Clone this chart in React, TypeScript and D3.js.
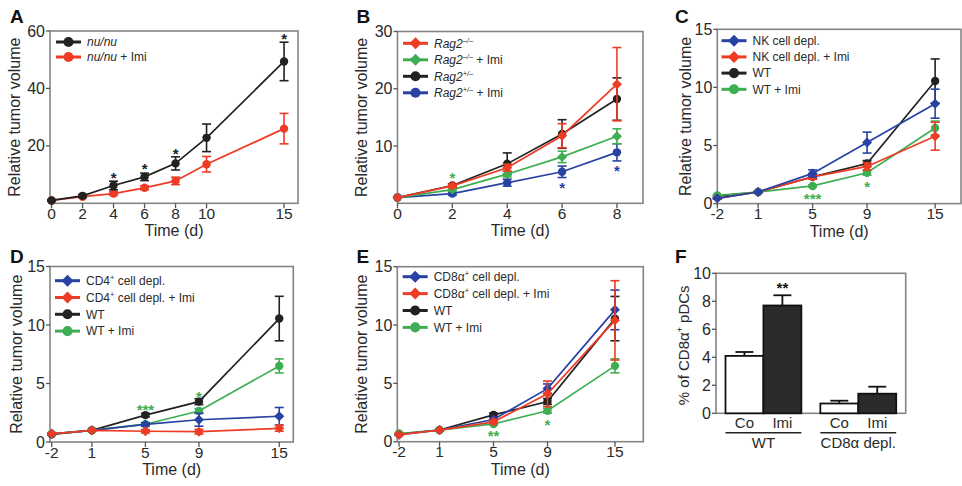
import React from 'react';
import * as d3 from 'd3';

const FONT = "'Liberation Sans', Arial, Helvetica, sans-serif";
const RED = '#ee3b26';
const GREEN = '#3fae52';
const BLUE = '#2742a2';
const BLACK = '#222222';
const FRAME = '#858585';
const TXT = '#2a2a2a';

// ---------- Panel A ----------
const aDays = [0, 2, 4, 6, 8, 10, 15];
const aDayLabels = ['0', '2', '4', '6', '8', '10', '15'];
const aYTicks = [20, 40, 60];
const aNu = [1, 2.6, 6.2, 9.2, 13.9, 22.8, 49.4];
const aNuErr = [0.3, 0.5, 1.5, 1.3, 2.3, 4.8, 6.7];
const aNuImi = [1, 2.3, 3.4, 5.4, 7.8, 13.6, 26];
const aNuImiErr = [0.2, 0.4, 0.6, 0.7, 1.3, 2.7, 5.3];
const aStars = [
  { x: 4, y: 10.3, t: '*' },
  { x: 6, y: 13.2, t: '*' },
  { x: 8, y: 18.5, t: '*' },
  { x: 15, y: 58.5, t: '*' },
];

// ---------- Panel B ----------
const bDays = [0, 2, 4, 6, 8];
const bDayLabels = ['0', '2', '4', '6', '8'];
const bYTicks = [10, 20, 30];
const bKO = [1, 3.05, 6.2, 11.8, 20.8];
const bKOErr = [0.1, 0.3, 0.6, 2.1, 6.4];
const bKOImi = [1, 2.4, 5.1, 8.1, 11.7];
const bKOImiErr = [0.1, 0.3, 0.5, 1.0, 1.3];
const bHet = [1, 3.1, 6.9, 12.1, 18.2];
const bHetErr = [0.1, 0.3, 1.9, 2.5, 3.7];
const bHetImi = [1, 1.7, 3.6, 5.5, 8.9];
const bHetImiErr = [0.1, 0.3, 0.6, 1.0, 1.5];
const bStars = [
  { x: 2, y: 5.2, t: '*', c: 'green' },
  { x: 6, y: 3.3, t: '*', c: 'blue' },
  { x: 8, y: 6.3, t: '*', c: 'blue' },
];

// ---------- Shared WT controls (C, D, E) ----------
const wtVals = [0.65, 1, 2.3, 3.45, 10.55];
const wtErr = [0.05, 0.05, 0.15, 0.25, 1.9];
const wtImiVals = [0.7, 1, 1.52, 2.65, 6.5];
const wtImiErr = [0.05, 0.05, 0.1, 0.2, 0.6];
const depDayLabels = ['-2', '1', '5', '9', '15'];
const cePositions = [-2, 1, 5, 9, 14];
const dPositions = [-2, 1, 5, 9, 15];
const depYTicks = [0, 5, 10, 15];

// ---------- Panel C ----------
const cNK = [0.45, 1, 2.6, 5.25, 8.6];
const cNKErr = [0.05, 0.05, 0.3, 0.9, 1.25];
const cNKImi = [0.45, 1, 2.3, 3.2, 5.8];
const cNKImiErr = [0.05, 0.05, 0.2, 0.3, 1.2];
const cStars = [
  { x: 5, y: 0.75, t: '***', c: 'green' },
  { x: 9, y: 1.75, t: '*', c: 'green' },
];

// ---------- Panel D ----------
const dCD4 = [0.7, 1, 1.5, 1.9, 2.2];
const dCD4Err = [0.05, 0.05, 0.15, 0.55, 0.75];
const dCD4Imi = [0.7, 1, 0.92, 0.88, 1.17];
const dCD4ImiErr = [0.05, 0.05, 0.15, 0.2, 0.25];
const dStars = [
  { x: 5, y: 3.1, t: '***', c: 'green' },
  { x: 9, y: 4.2, t: '*', c: 'green' },
];

// ---------- Panel E ----------
const eCD8 = [0.6, 1, 1.9, 4.55, 11.3];
const eCD8Err = [0.05, 0.05, 0.15, 0.4, 1.7];
const eCD8Imi = [0.6, 1, 1.7, 4.1, 10.4];
const eCD8ImiErr = [0.05, 0.05, 0.15, 1.1, 3.4];
const eStars = [
  { x: 5, y: 0.8, t: '**', c: 'green' },
  { x: 9, y: 1.8, t: '*', c: 'green' },
];

// ---------- Panel F ----------
const fCats = ['Co', 'Imi', 'Co', 'Imi'];
const fGroups = ['WT', 'CD8\u03B1 depl.'];
const fVals = [4.1, 7.7, 0.7, 1.4];
const fErr = [0.28, 0.73, 0.2, 0.5];
const fYTicks = [0, 2, 4, 6, 8, 10];
const fStars = [{ i: 1, t: '**' }];

type Seg = { t: string; i?: boolean; sup?: boolean };
type Series = {
  label: Seg[];
  color: string;
  shape: 'circle' | 'diamond';
  values: number[];
  errors: number[];
};

const colorOf = (c?: string) => (c === 'green' ? GREEN : c === 'blue' ? BLUE : BLACK);

function Label({ segs, x, y, size }: { segs: Seg[]; x: number; y: number; size: number }) {
  const out: React.ReactNode[] = [];
  let shifted = false;
  segs.forEach((s, k) => {
    let dy = 0;
    if (s.sup && !shifted) {
      dy = -size * 0.4;
      shifted = true;
    } else if (!s.sup && shifted) {
      dy = size * 0.4;
      shifted = false;
    }
    out.push(
      <tspan
        key={k}
        dy={dy}
        fontStyle={s.i ? 'italic' : 'normal'}
        fontSize={s.sup ? size * 0.62 : size}
      >
        {s.t}
      </tspan>
    );
  });
  return (
    <text x={x} y={y} fontSize={size} fill={TXT} style={{ whiteSpace: 'pre' }}>
      {out}
    </text>
  );
}

function Marker({ shape, x, y, color, s = 1 }: { shape: string; x: number; y: number; color: string; s?: number }) {
  if (shape === 'circle') return <circle cx={x} cy={y} r={4.2 * s} fill={color} />;
  const h = 5 * s;
  return <path d={`M${x},${y - h}L${x + h},${y}L${x},${y + h}L${x - h},${y}Z`} fill={color} />;
}

type PanelProps = {
  letter: string;
  letterX: number;
  letterY: number;
  box: { l: number; t: number; r: number; b: number };
  xDomain: [number, number];
  yDomain: [number, number];
  xPos: number[];
  xLabels: string[];
  yTicks: number[];
  series: Series[];
  drawOrder: number[];
  legend: { x: number; y: number; dy: number };
  stars: { x: number; y: number; t: string; c?: string }[];
  yTitleX: number;
};

function LinePanel(p: PanelProps) {
  const { box } = p;
  const x = d3.scaleLinear().domain(p.xDomain).range([box.l, box.r]);
  const y = d3.scaleLinear().domain(p.yDomain).range([box.b, box.t]);
  const cap = 4.5;
  return (
    <g fontFamily={FONT}>
      <text x={p.letterX} y={p.letterY} fontSize={19} fontWeight="bold" fill="#111">
        {p.letter}
      </text>
      <rect x={box.l} y={box.t} width={box.r - box.l} height={box.b - box.t} fill="none" stroke={FRAME} strokeWidth={1.6} />
      {p.yTicks.map((v) => (
        <g key={'y' + v}>
          <line x1={box.l - 4} x2={box.l} y1={y(v)} y2={y(v)} stroke="#555" strokeWidth={1.3} />
          <text x={box.l - 5} y={y(v) + 5.5} fontSize={16} textAnchor="end" fill={TXT}>
            {v}
          </text>
        </g>
      ))}
      {p.xPos.map((v, i) => (
        <g key={'x' + i}>
          <line x1={x(v)} x2={x(v)} y1={box.b} y2={box.b + 5} stroke="#555" strokeWidth={1.3} />
          <text x={x(v)} y={box.b + 15.5} fontSize={15.5} textAnchor="middle" fill={TXT}>
            {p.xLabels[i]}
          </text>
        </g>
      ))}
      <text x={(box.l + box.r) / 2} y={box.b + 33} fontSize={16} textAnchor="middle" fill={TXT}>
        Time (d)
      </text>
      <text
        transform={`translate(${p.yTitleX + 5.5},${(box.t + box.b) / 2}) rotate(-90)`}
        fontSize={16}
        textAnchor="middle"
        fill={TXT}
      >
        Relative tumor volume
      </text>
      {p.drawOrder.map((si) => {
        const s = p.series[si];
        const line = d3
          .line<number>()
          .x((_, i) => x(p.xPos[i]))
          .y((d) => y(d));
        return (
          <g key={'s' + si}>
            <path d={line(s.values) || ''} fill="none" stroke={s.color} strokeWidth={1.7} />
            {s.values.map((v, i) => {
              const e = s.errors[i];
              const cx = x(p.xPos[i]);
              const y1 = y(v + e);
              const y0 = y(v - e);
              return (
                <g key={i} stroke={s.color} strokeWidth={1.6}>
                  <line x1={cx} x2={cx} y1={y0} y2={y1} />
                  <line x1={cx - cap} x2={cx + cap} y1={y1} y2={y1} />
                  <line x1={cx - cap} x2={cx + cap} y1={y0} y2={y0} />
                </g>
              );
            })}
            {s.values.map((v, i) => (
              <Marker key={'m' + i} shape={s.shape} x={x(p.xPos[i])} y={y(v)} color={s.color} />
            ))}
          </g>
        );
      })}
      {p.stars.map((st, i) => (
        <text key={'st' + i} x={x(st.x)} y={y(st.y) + 9} fontSize={15} textAnchor="middle" fill={colorOf(st.c)} fontWeight="bold">
          {st.t}
        </text>
      ))}
      {p.series.map((s, i) => {
        const ly = p.legend.y + i * p.legend.dy;
        return (
          <g key={'lg' + i}>
            <line x1={p.legend.x} x2={p.legend.x + 25} y1={ly} y2={ly} stroke={s.color} strokeWidth={3} />
            <Marker shape={s.shape} x={p.legend.x + 12.5} y={ly} color={s.color} s={1.2} />
            <Label segs={s.label} x={p.legend.x + 31} y={ly + 4.3} size={12} />
          </g>
        );
      })}
    </g>
  );
}

function BarPanel() {
  const box = { l: 716, t: 273.3, r: 905.7, b: 413.3 };
  const slots = [0, 1, 2.5, 3.5];
  const x = d3.scaleLinear().domain([-0.75, 4.25]).range([box.l, box.r]);
  const y = d3.scaleLinear().domain([0, 10]).range([box.b, box.t]);
  const bw = x(1) - x(0);
  const groups = [
    [0, 1],
    [2, 3],
  ];
  return (
    <g fontFamily={FONT}>
      <text x={675} y={263} fontSize={19} fontWeight="bold" fill="#111">
        F
      </text>
      <rect x={box.l} y={box.t} width={box.r - box.l} height={box.b - box.t} fill="none" stroke={FRAME} strokeWidth={1.6} />
      {fYTicks.map((v) => (
        <g key={v}>
          <line x1={box.l - 4} x2={box.l} y1={y(v)} y2={y(v)} stroke="#555" strokeWidth={1.3} />
          <text x={box.l - 5} y={y(v) + 5.5} fontSize={16} textAnchor="end" fill={TXT}>
            {v}
          </text>
        </g>
      ))}
      {fVals.map((v, i) => {
        const cx = x(slots[i]);
        const top = y(v + fErr[i]);
        return (
          <g key={i}>
            <line x1={cx} x2={cx} y1={y(v)} y2={top} stroke="#111" strokeWidth={1.8} />
            <line x1={cx - 9} x2={cx + 9} y1={top} y2={top} stroke="#111" strokeWidth={1.8} />
            <rect
              x={cx - bw / 2}
              y={y(v)}
              width={bw}
              height={box.b - y(v)}
              fill={i % 2 === 1 ? '#2b2b2b' : '#ffffff'}
              stroke="#111"
              strokeWidth={1.8}
            />
            <text x={cx} y={428} fontSize={15} textAnchor="middle" fill={TXT}>
              {fCats[i]}
            </text>
          </g>
        );
      })}
      {fStars.map((s, k) => (
        <text key={k} x={x(slots[s.i])} y={y(fVals[s.i] + fErr[s.i]) - 2} fontSize={15} textAnchor="middle" fill="#111" fontWeight="bold">
          {s.t}
        </text>
      ))}
      {groups.map((g, k) => {
        const x0 = x(slots[g[0]]) - bw / 2;
        const x1 = x(slots[g[1]]) + bw / 2;
        return (
          <g key={k}>
            <line x1={x0} x2={x1} y1={432.7} y2={432.7} stroke="#222" strokeWidth={1.4} />
            <text x={(x0 + x1) / 2} y={447.5} fontSize={15} textAnchor="middle" fill={TXT}>
              {fGroups[k]}
            </text>
          </g>
        );
      })}
      <text
        transform={`translate(688.5,${(box.t + box.b) / 2 + 2}) rotate(-90)`}
        fontSize={15}
        textAnchor="middle"
        fill={TXT}
        style={{ whiteSpace: 'pre' }}
      >
        <tspan>% of CD8α</tspan>
        <tspan fontSize={9} dy={-5.5}>+</tspan>
        <tspan dy={5.5}> pDCs</tspan>
      </text>
    </g>
  );
}

const wtSeries = (): Series[] => [
  { label: [{ t: 'WT' }], color: BLACK, shape: 'circle', values: wtVals, errors: wtErr },
  { label: [{ t: 'WT + Imi' }], color: GREEN, shape: 'circle', values: wtImiVals, errors: wtImiErr },
];

export default function App() {
  const aSeries: Series[] = [
    { label: [{ t: 'nu/nu', i: true }], color: BLACK, shape: 'circle', values: aNu, errors: aNuErr },
    { label: [{ t: 'nu/nu', i: true }, { t: ' + Imi' }], color: RED, shape: 'circle', values: aNuImi, errors: aNuImiErr },
  ];
  const bSeries: Series[] = [
    { label: [{ t: 'Rag2', i: true }, { t: '\u2013/\u2013', i: true, sup: true }], color: RED, shape: 'diamond', values: bKO, errors: bKOErr },
    { label: [{ t: 'Rag2', i: true }, { t: '\u2013/\u2013', i: true, sup: true }, { t: ' + Imi' }], color: GREEN, shape: 'diamond', values: bKOImi, errors: bKOImiErr },
    { label: [{ t: 'Rag2', i: true }, { t: '+/\u2013', i: true, sup: true }], color: BLACK, shape: 'circle', values: bHet, errors: bHetErr },
    { label: [{ t: 'Rag2', i: true }, { t: '+/\u2013', i: true, sup: true }, { t: ' + Imi' }], color: BLUE, shape: 'circle', values: bHetImi, errors: bHetImiErr },
  ];
  const cSeries: Series[] = [
    { label: [{ t: 'NK cell depl.' }], color: BLUE, shape: 'diamond', values: cNK, errors: cNKErr },
    { label: [{ t: 'NK cell depl. + Imi' }], color: RED, shape: 'diamond', values: cNKImi, errors: cNKImiErr },
    ...wtSeries(),
  ];
  const dSeries: Series[] = [
    { label: [{ t: 'CD4' }, { t: '+', sup: true }, { t: ' cell depl.' }], color: BLUE, shape: 'diamond', values: dCD4, errors: dCD4Err },
    { label: [{ t: 'CD4' }, { t: '+', sup: true }, { t: ' cell depl. + Imi' }], color: RED, shape: 'diamond', values: dCD4Imi, errors: dCD4ImiErr },
    ...wtSeries(),
  ];
  const eSeries: Series[] = [
    { label: [{ t: 'CD8\u03B1' }, { t: '+', sup: true }, { t: ' cell depl.' }], color: BLUE, shape: 'diamond', values: eCD8, errors: eCD8Err },
    { label: [{ t: 'CD8\u03B1' }, { t: '+', sup: true }, { t: ' cell depl. + Imi' }], color: RED, shape: 'diamond', values: eCD8Imi, errors: eCD8ImiErr },
    ...wtSeries(),
  ];
  return (
    <svg width={962} height={486} style={{ position: 'absolute', left: 0, top: 0, background: '#fff' }}>
      <rect width={962} height={486} fill="#fff" />
      <LinePanel
        letter="A"
        letterX={10}
        letterY={23}
        box={{ l: 50, t: 31, r: 298, b: 203.3 }}
        xDomain={[-0.1, 15.9]}
        yDomain={[0, 60]}
        xPos={aDays}
        xLabels={aDayLabels}
        yTicks={aYTicks}
        series={aSeries}
        drawOrder={[1, 0]}
        legend={{ x: 56, y: 42, dy: 15 }}
        stars={aStars}
        yTitleX={14}
      />
      <LinePanel
        letter="B"
        letterX={356.5}
        letterY={23}
        box={{ l: 397.5, t: 31.5, r: 643, b: 203.3 }}
        xDomain={[0, 8.95]}
        yDomain={[0, 30]}
        xPos={bDays}
        xLabels={bDayLabels}
        yTicks={bYTicks}
        series={bSeries}
        drawOrder={[2, 3, 1, 0]}
        legend={{ x: 403, y: 43.3, dy: 16.5 }}
        stars={bStars}
        yTitleX={361.5}
      />
      <LinePanel
        letter="C"
        letterX={675}
        letterY={23}
        box={{ l: 717.3, t: 29.3, r: 961, b: 203.6 }}
        xDomain={[-2, 15.9]}
        yDomain={[0, 15]}
        xPos={cePositions}
        xLabels={depDayLabels}
        yTicks={depYTicks}
        series={cSeries}
        drawOrder={[2, 3, 1, 0]}
        legend={{ x: 721.5, y: 40.7, dy: 16.2 }}
        stars={cStars}
        yTitleX={685}
      />
      <LinePanel
        letter="D"
        letterX={10}
        letterY={263}
        box={{ l: 50, t: 266.5, r: 293.3, b: 442 }}
        xDomain={[-2.13, 16.05]}
        yDomain={[0, 15]}
        xPos={dPositions}
        xLabels={depDayLabels}
        yTicks={depYTicks}
        series={dSeries}
        drawOrder={[2, 3, 0, 1]}
        legend={{ x: 55, y: 280.7, dy: 16.8 }}
        stars={dStars}
        yTitleX={16.5}
      />
      <LinePanel
        letter="E"
        letterX={356.5}
        letterY={263}
        box={{ l: 397.3, t: 266.7, r: 643.3, b: 441.7 }}
        xDomain={[-2.13, 16.1]}
        yDomain={[0, 15]}
        xPos={cePositions}
        xLabels={depDayLabels}
        yTicks={depYTicks}
        series={eSeries}
        drawOrder={[2, 3, 0, 1]}
        legend={{ x: 402.7, y: 276.7, dy: 16.9 }}
        stars={eStars}
        yTitleX={361.5}
      />
      <BarPanel />
    </svg>
  );
}
